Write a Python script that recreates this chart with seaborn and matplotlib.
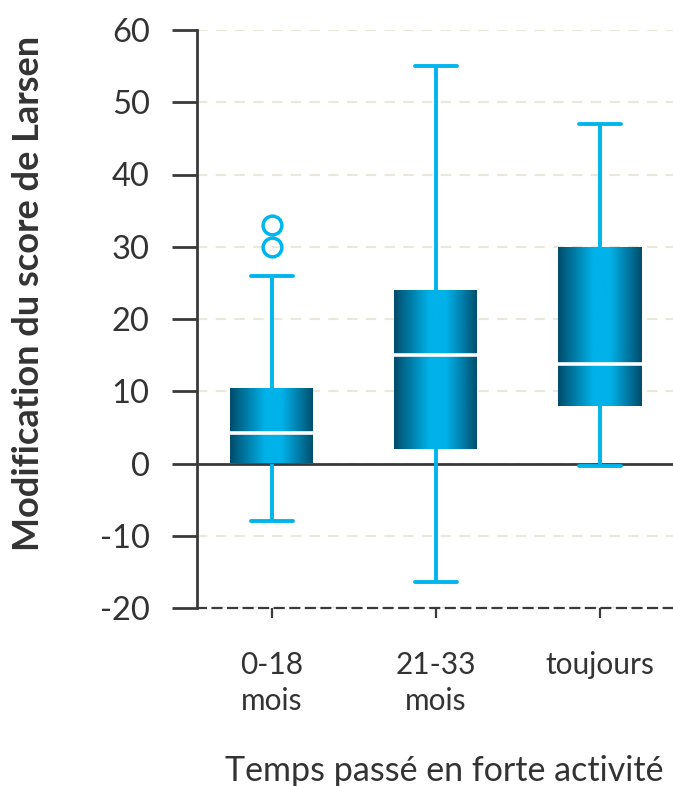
import numpy as np
import pandas as pd
import matplotlib
matplotlib.use("Agg")
import matplotlib.pyplot as plt
import seaborn as sns
from matplotlib.colors import LinearSegmentedColormap

# data
groupes = ["0-18\nmois", "21-33\nmois", "toujours"]
score_0_18 = [-8, -5, -2, 0, 1.5, 3, 4.2, 6, 8.5, 10.4, 26, 30, 33]
score_21_33 = [-16.4, 2, 15, 24, 55]
score_toujours = [-0.3, 8, 13.8, 30, 47]

df = pd.DataFrame({
    "groupe": [groupes[0]] * len(score_0_18)
    + [groupes[1]] * len(score_21_33)
    + [groupes[2]] * len(score_toujours),
    "score": score_0_18 + score_21_33 + score_toujours,
})

sns.set_style("white")
plt.rcParams["font.family"] = ["Lato", "DejaVu Sans"]
plt.rcParams["axes.unicode_minus"] = False

cyan = "#00b5ec"
dark = "#3a3a3a"
txt = "#333333"

fig = plt.figure(figsize=(6.73, 7.86), dpi=100)
ax = fig.add_axes([197 / 673, 1 - 608 / 786, 476 / 673, 578 / 786])

sns.boxplot(data=df, x="groupe", y="score", order=groupes, width=0.51,
            whis=1.5, color=cyan, linewidth=2.8, fliersize=13.5, ax=ax,
            boxprops=dict(edgecolor="none", linewidth=0),
            whiskerprops=dict(color=cyan, linewidth=2.8),
            capprops=dict(color=cyan, linewidth=2.8),
            medianprops=dict(color="white", linewidth=2.6),
            flierprops=dict(marker="o", markerfacecolor="none",
                            markeredgecolor=cyan, markeredgewidth=2.5))

# gradient fill inside each box
cmap = LinearSegmentedColormap.from_list(
    "cyl", [(0, "#004c6c"), (0.42, "#00b2e9"), (0.62, "#00b2e9"), (1, "#004c6c")])
grad = np.linspace(0, 1, 256).reshape(1, -1)
for patch in list(ax.patches):
    bb = patch.get_path().get_extents()
    im = ax.imshow(grad, cmap=cmap, extent=[bb.x0, bb.x1, bb.y0, bb.y1],
                   aspect="auto", interpolation="bilinear", zorder=2.5)
    im.set_clip_path(patch)
    patch.set_facecolor("none")
for line in ax.lines:
    if line.get_color() == "white":
        line.set_zorder(3)

ax.axhline(0, color=dark, lw=2, zorder=1.5)

ax.set_xlim(-0.455, 2.447)
ax.set_ylim(-20, 60)
ax.set_yticks(range(-20, 61, 10))
ax.yaxis.grid(True, color="#ebe7dc", linestyle=(0, (5, 4)), linewidth=1.5)
ax.set_axisbelow(True)

for s in ["top", "right"]:
    ax.spines[s].set_visible(False)
ax.spines["left"].set_color(dark)
ax.spines["left"].set_linewidth(2)
ax.spines["bottom"].set_color(dark)
ax.spines["bottom"].set_linewidth(1.6)
ax.spines["bottom"].set_linestyle((0, (4, 3)))

ax.tick_params(axis="y", left=True, direction="out", length=18, width=2,
               color=dark, labelsize=23.5, labelcolor=txt, pad=16)
ax.tick_params(axis="x", bottom=True, direction="out", length=7, width=1.6,
               color=dark, labelsize=21.5, labelcolor=txt, pad=24)
for lab in ax.get_xticklabels():
    lab.set_linespacing(1.35)

ax.set_xlabel("Temps passé en forte activité", fontsize=24.5, color=txt)
ax.xaxis.set_label_coords(0.52, -0.255)
ax.xaxis.label.set_verticalalignment("top")
ax.set_ylabel("Modification du score de Larsen", fontsize=26,
              fontweight="bold", color=txt)
ax.yaxis.set_label_coords(-0.32, 0.545)

fig.savefig("out.png", dpi=100)
